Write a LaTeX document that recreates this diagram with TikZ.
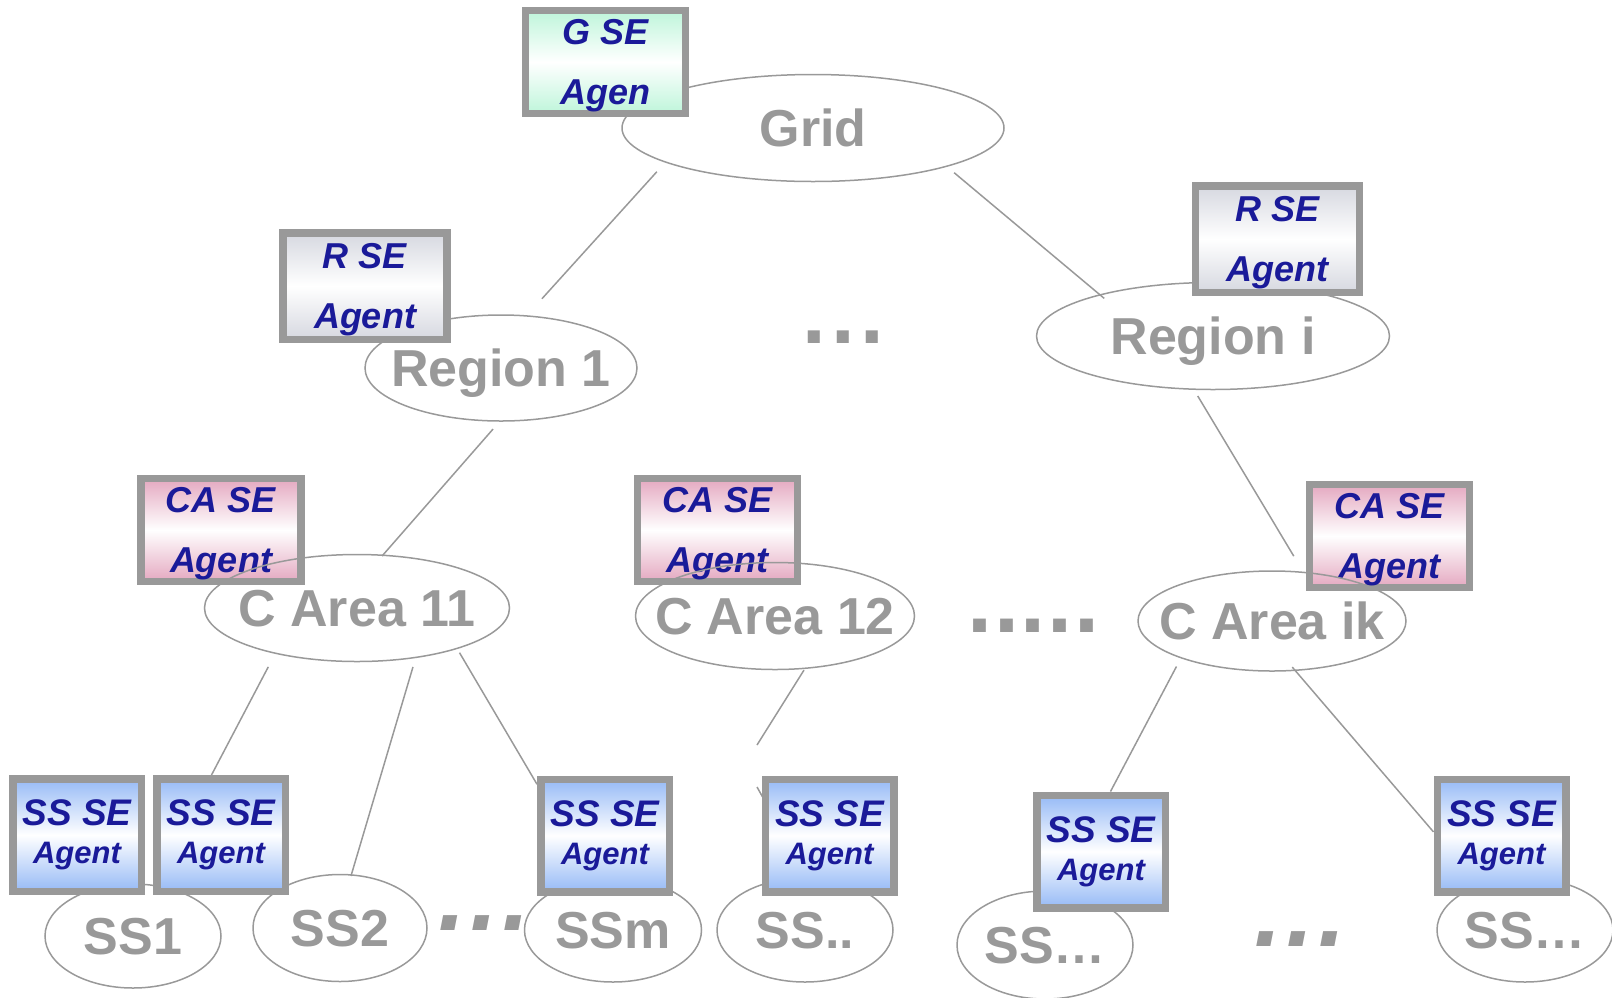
\documentclass[tikz,border=0pt]{standalone}
\usepackage{fontspec}
\setmainfont{Liberation Sans}
\usepackage{xcolor}
\usetikzlibrary{shapes.geometric}

\definecolor{labelgray}{RGB}{153,153,153}
\definecolor{framegray}{RGB}{153,153,153}
\definecolor{agentblue}{RGB}{26,26,153}
\definecolor{gmint}{RGB}{190,245,218}
\definecolor{rgray}{RGB}{214,216,224}
\definecolor{capink}{RGB}{228,168,192}
\definecolor{ssblue}{RGB}{150,186,246}

\begin{document}
\begin{tikzpicture}[x=1pt,y=-1pt,
	area/.style={ellipse,draw=labelgray,line width=1.5pt,inner sep=0pt,outer sep=0pt},
	tag/.style={font=\fontsize{52}{52}\selectfont\bfseries,text=labelgray,inner sep=0pt,text height=37pt,text depth=0pt},
	link/.style={draw=labelgray,line width=1.5pt},
	agent/.style={draw=framegray,line width=7.5pt,align=center,inner sep=0pt,text=agentblue,
		font=\fontsize{36}{60}\selectfont\bfseries\itshape,minimum width=160pt,minimum height=103pt},
	gagent/.style={agent,text depth=0pt,top color=gmint,bottom color=gmint,middle color=white},
	ragent/.style={agent,text depth=0pt,minimum width=164pt,minimum height=106.5pt,top color=rgray,bottom color=rgray,middle color=white},
	caagent/.style={agent,text depth=0pt,top color=capink,bottom color=capink,middle color=white},
	ssagent/.style={agent,font=\fontsize{31}{38}\selectfont\bfseries\itshape,minimum width=128.5pt,minimum height=112.5pt,
		top color=ssblue,bottom color=ssblue,middle color=white},
	gap/.style={font=\fontsize{#1}{#1}\selectfont\bfseries,text=labelgray,inner sep=0pt,anchor=base west}]
	\useasboundingbox (0,0) rectangle (1612,997);
	
	% area agents sit under the area outlines
	\node[caagent] (ca11) at (221,530) {CA SE\\Agent};
	\node[caagent] (ca12) at (717.5,530) {CA SE\\Agent};
	\node[caagent] (caik) at (1389.5,536) {CA SE\\Agent};
	
	% hierarchy
	\node[area,minimum width=382pt,minimum height=107pt,label={[tag]center:Grid}] (grid) at (813,128) {};
	\node[area,minimum width=272pt,minimum height=106pt,label={[tag]center:Region 1}] (reg1) at (501,368) {};
	\node[area,minimum width=353pt,minimum height=107pt,label={[tag]center:Region i}] (regi) at (1213,336) {};
	\node[area,minimum width=305pt,minimum height=107pt,label={[tag]center:C Area 11}] (c11) at (357,608) {};
	\node[area,minimum width=279pt,minimum height=107pt,label={[tag]center:C Area 12}] (c12) at (775,616) {};
	\node[area,minimum width=268pt,minimum height=100pt,label={[tag]center:C Area ik}] (cik) at (1272,621) {};
	\node[area,minimum width=176pt,minimum height=104pt,label={[tag]center:SS1}] (ss1) at (133,936) {};
	\node[area,minimum width=174pt,minimum height=107pt,label={[tag]center:SS2}] (ss2) at (340,928) {};
	\node[area,minimum width=177pt,minimum height=104pt,label={[tag]center:SSm}] (ssm) at (613,930) {};
	\node[area,minimum width=176pt,minimum height=104pt,label={[tag]center:SS..}] (ssdd) at (805,930) {};
	\node[area,minimum width=176pt,minimum height=108pt,label={[tag]center:SS…}] (ssl) at (1045,945) {};
	\node[area,minimum width=176pt,minimum height=104pt,label={[tag]center:SS…}] (ssr) at (1525,930) {};
	
	% agents
	\node[gagent] (gsa) at (605.5,62) {G SE\\Agen};
	\node[ragent] (rsa1) at (365,286) {R SE\\Agent};
	\node[ragent] (rsai) at (1277.5,239) {R SE\\Agent};
	
	\coordinate (c12tail) at (757,745);
	\coordinate (stubA) at (757,787);
	\coordinate (stubB) at (766,803);
	\draw[link] (stubA) -- (stubB);
	
	\node[ssagent] (sb1) at (77,835) {{\fontsize{37}{38}\selectfont SS SE}\\Agent};
	\node[ssagent] (sb2) at (221,835) {{\fontsize{37}{38}\selectfont SS SE}\\Agent};
	\node[ssagent] (sbm) at (605,835.5) {{\fontsize{37}{38}\selectfont SS SE}\\Agent};
	\node[ssagent] (sbdd) at (829.5,835.5) {{\fontsize{37}{38}\selectfont SS SE}\\Agent};
	\node[ssagent] (sbl) at (1101,851.5) {{\fontsize{37}{38}\selectfont SS SE}\\Agent};
	\node[ssagent] (sbr) at (1501.5,835.5) {{\fontsize{37}{38}\selectfont SS SE}\\Agent};
	
	% links
	\draw[link,shorten <=13.1pt,shorten >=23.2pt] (grid.193.9) -- (reg1.64.4);
	\draw[link,shorten <=10pt,shorten >=-5.4pt] (grid.344.7) -- (regi.160.6);
	\draw[link,shorten <=10.7pt,shorten >=-1pt] (reg1.269) -- (c11.64.9);
	\draw[link,shorten <=7.9pt,shorten >=19pt] (regi.250.3) -- (cik.57.8);
	\draw[link,shorten <=15.4pt] (c11.209.4) -- (sb2.99.5);
	\draw[link,shorten <=10pt,shorten >=-1pt] (c11.320.1) -- (ss2.78);
	\draw[link,shorten <=5pt] (c11.338.9) -- (sbm.143.4);
	\draw[link,shorten <=2.2pt] (c12.300.9) -- (c12tail);
	\draw[link,shorten <=9.9pt] (cik.202.7) -- (sbl.81.4);
	\draw[link,shorten <=-4.2pt] (cik.295.7) -- (sbr.177.9);
	
	% gaps in the rows
	\node[gap=85] (gapr) at (802,343) {.\kern5.7pt.\kern5.7pt.};
	\node[gap=90] (gapc) at (967,632) {.\kern1.8pt.\kern1.8pt.\kern1.8pt.\kern1.8pt.};
	\node[gap=100,font=\fontsize{100}{100}\selectfont\bfseries\itshape] (gapsa) at (438,930) {.\kern4.2pt.\kern4.2pt.};
	\node[gap=100,font=\fontsize{100}{100}\selectfont\bfseries\itshape] (gapsb) at (1254,946) {.\kern4.2pt.\kern4.2pt.};
\end{tikzpicture}
\end{document}
